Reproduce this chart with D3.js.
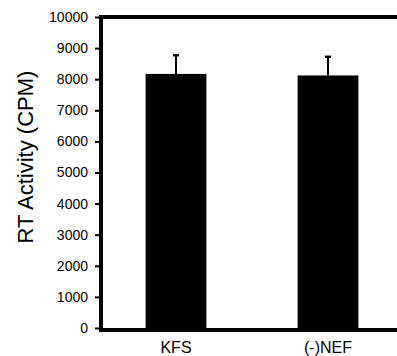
<!DOCTYPE html>
<html>
<head>
<meta charset="utf-8">
<script src="https://cdn.jsdelivr.net/npm/d3@7"></script>
<style>
  body { margin: 0; background: #fff; }
  svg { display: block; font-family: "Liberation Sans", Arial, sans-serif; }
  .y-tick text { font-size: 14px; fill: #000; }
  .y-tick line { stroke: #000; stroke-width: 2; }
</style>
</head>
<body>
<svg id="chart" width="397" height="356"></svg>
<script>
// Data
var categories = ["KFS", "(-)NEF"];
var means = [8170, 8120];
var errors = [600, 600];
var tick_values = [0, 1000, 2000, 3000, 4000, 5000, 6000, 7000, 8000, 9000, 10000];

var width = 397;
var height = 356;
var left = 101;
var top_y = 17;
var bot_y = 330;

var svg = d3.select("#chart");

// Scales
var x_scale = d3.scaleBand()
    .domain(categories)
    .range([left - 1, left + 303])
    .paddingInner(0.6)
    .paddingOuter(0.3);
var y_scale = d3.scaleLinear()
    .domain([0, 10000])
    .range([328, top_y]);

var rows = categories.map((c, i) => ({label: c, mean: means[i], err: errors[i]}));

// Bars
svg.append("g").selectAll("rect")
    .data(rows)
    .enter()
    .append("rect")
    .attr("x", d => x_scale(d.label))
    .attr("y", d => y_scale(d.mean))
    .attr("width", x_scale.bandwidth())
    .attr("height", d => y_scale(0) - y_scale(d.mean))
    .attr("fill", "#000");

// Error bars (upper only)
var err = svg.append("g").selectAll("g")
    .data(rows)
    .enter()
    .append("g");
err.append("line")
    .attr("x1", d => x_scale(d.label) + x_scale.bandwidth() / 2)
    .attr("x2", d => x_scale(d.label) + x_scale.bandwidth() / 2)
    .attr("y1", d => y_scale(d.mean))
    .attr("y2", d => y_scale(d.mean + d.err))
    .attr("stroke", "#000")
    .attr("stroke-width", 2);
err.append("line")
    .attr("x1", d => x_scale(d.label) + x_scale.bandwidth() / 2 - 3)
    .attr("x2", d => x_scale(d.label) + x_scale.bandwidth() / 2 + 3)
    .attr("y1", d => y_scale(d.mean + d.err))
    .attr("y2", d => y_scale(d.mean + d.err))
    .attr("stroke", "#000")
    .attr("stroke-width", 2.5);

// Y axis ticks and labels
var y_axis = svg.append("g")
    .attr("class", "y-tick")
    .attr("transform", "translate(" + (left - 2) + ", 0)")
    .call(d3.axisLeft(y_scale)
        .tickValues(tick_values)
        .tickFormat(d3.format("d"))
        .tickSize(4)
        .tickPadding(7)
        .tickSizeOuter(0));
y_axis.select(".domain").remove();
y_axis.attr("font-family", null).attr("font-size", null);

// Frame (thick lines)
var frame = svg.append("g")
    .attr("stroke", "#000")
    .attr("stroke-width", 4)
    .attr("fill", "none");
frame.append("line").attr("x1", left).attr("x2", left).attr("y1", top_y - 2).attr("y2", bot_y + 2);
frame.append("line").attr("x1", left - 2).attr("x2", width + 20).attr("y1", top_y).attr("y2", top_y);
frame.append("line").attr("x1", left - 2).attr("x2", width + 20).attr("y1", bot_y).attr("y2", bot_y);

// X labels
svg.append("g").selectAll("text")
    .data(rows)
    .enter()
    .append("text")
    .attr("x", d => x_scale(d.label) + x_scale.bandwidth() / 2)
    .attr("y", 353)
    .attr("text-anchor", "middle")
    .attr("font-size", 16)
    .text(d => d.label);

// Y title
svg.append("text")
    .attr("transform", "translate(33, 157) rotate(-90)")
    .attr("text-anchor", "middle")
    .attr("font-size", 22)
    .text("RT Activity (CPM)");
</script>
</body>
</html>
